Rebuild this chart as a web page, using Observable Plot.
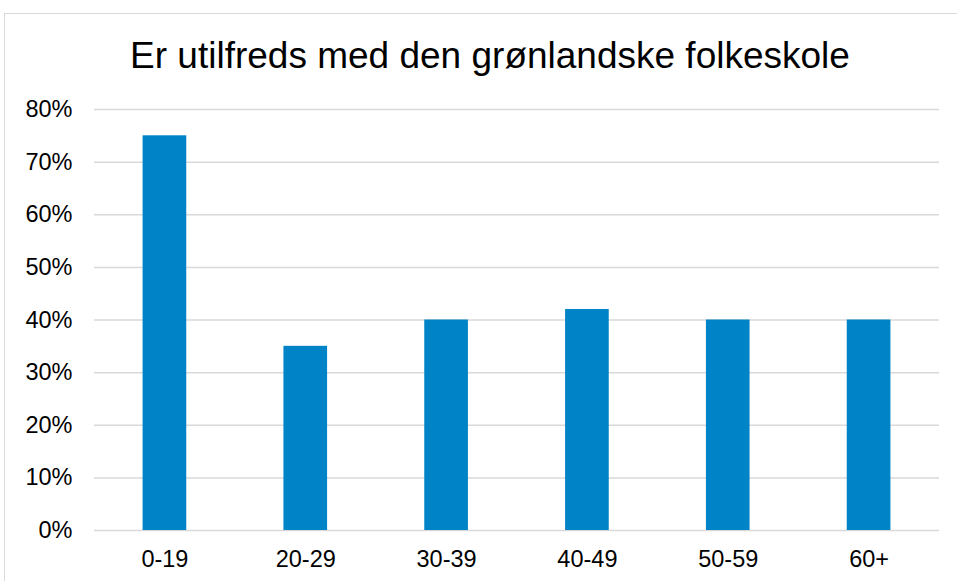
<!DOCTYPE html>
<html>
<head>
<meta charset="utf-8">
<script src="https://cdn.jsdelivr.net/npm/d3@7"></script>
<script src="https://cdn.jsdelivr.net/npm/@observablehq/plot@0.6"></script>
<style>
  html, body { margin: 0; padding: 0; background: #fff; overflow: hidden; }
  body { width: 957px; height: 581px; position: relative; font-family: "Liberation Sans", Arial, sans-serif; }
  #frame { position: absolute; left: 4px; top: 13px; width: 980px; height: 600px; border: 1.5px solid #d9d9d9; box-sizing: border-box; }
  #title { position: absolute; left: 4px; width: 972px; top: 34px; text-align: center; font-size: 37px; line-height: 44px; color: #000; }
  #chart { position: absolute; left: 0; top: 0; }
</style>
</head>
<body>
<div id="frame"></div>
<div id="title">Er utilfreds med den grønlandske folkeskole</div>
<div id="chart"></div>
<script>
const categories = ["0-19", "20-29", "30-39", "40-49", "50-59", "60+"];
const values = [0.75, 0.35, 0.40, 0.42, 0.40, 0.40];
const yTicks = [0, 0.1, 0.2, 0.3, 0.4, 0.5, 0.6, 0.7, 0.8];

const data = categories.map((c, i) => ({category: c, value: values[i]}));

const chart = Plot.plot({
  width: 957,
  height: 581,
  marginLeft: 94,
  marginRight: 18,
  marginTop: 109,
  marginBottom: 51,
  style: {fontFamily: "Liberation Sans, Arial, sans-serif", fontSize: "23.5px", color: "#000", background: "transparent", overflow: "visible"},
  x: {domain: categories, paddingInner: 0.69, paddingOuter: 0.345, round: false, label: null},
  y: {domain: [0, 0.8], label: null},
  marks: [
    Plot.gridY(yTicks, {stroke: "#d9d9d9", strokeOpacity: 1, strokeWidth: 1.5}),
    Plot.barY(data, {x: "category", y: "value", fill: "#0083c7"}),
    Plot.axisY(yTicks, {tickSize: 0, tickPadding: 22, tickFormat: d3.format(".0%"), fontSize: 23.5, fill: "#000"}),
    Plot.axisX({tickSize: 0, tickPadding: 20, fontSize: 23.5, fill: "#000"})
  ]
});
document.getElementById("chart").appendChild(chart);
</script>
</body>
</html>
